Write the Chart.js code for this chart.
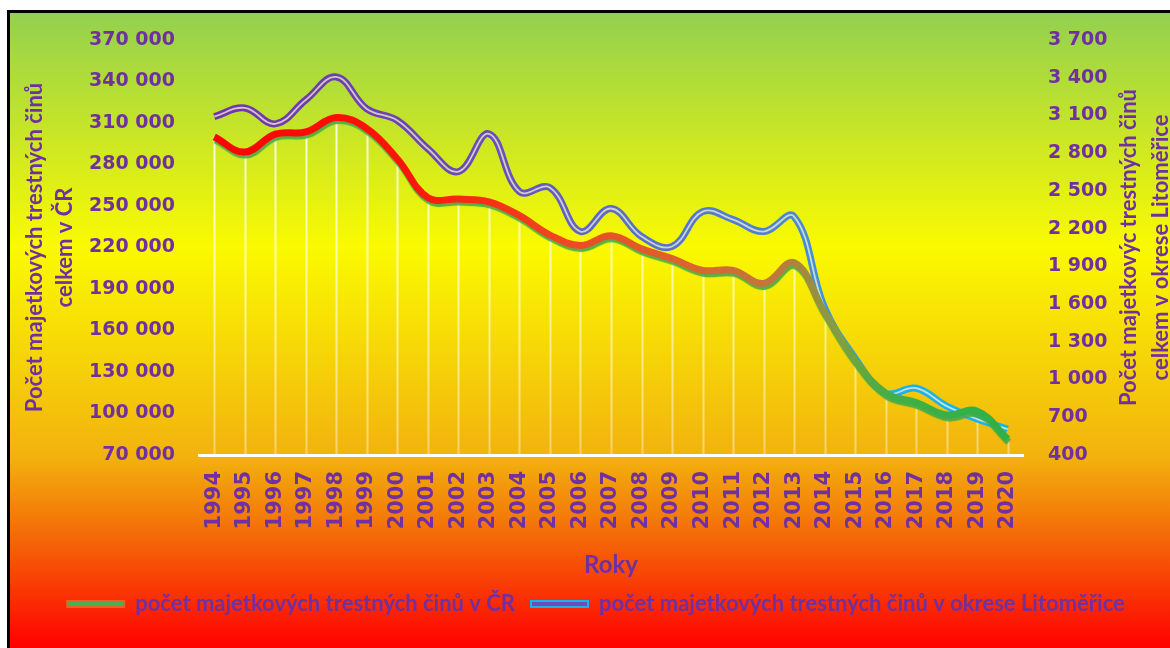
<!DOCTYPE html>
<html lang="cs">
<head>
<meta charset="utf-8">
<title>Majetkové trestné činy</title>
<script src="https://cdn.jsdelivr.net/npm/chart.js@4.4.1/dist/chart.umd.min.js"></script>
<style>
  html, body { margin: 0; padding: 0; background: #fff; }
  canvas { display: block; }
</style>
</head>
<body>
<canvas id="chart" width="1170" height="648"></canvas>
<script>
const roky = ['1994', '1995', '1996', '1997', '1998', '1999', '2000', '2001', '2002', '2003', '2004',
  '2005', '2006', '2007', '2008', '2009', '2010', '2011', '2012', '2013', '2014', '2015', '2016',
  '2017', '2018', '2019', '2020'];

// počet majetkových trestných činů v ČR (levá osa)
const cinyCR = [300000, 289000, 302000, 303500, 314000, 306000, 284000, 256000, 255000, 253000, 243000,
  229000, 221500, 228500, 219000, 212000, 203500, 203500, 194000, 209000, 173000, 138500, 114700,
  108000, 99000, 101700, 81500];

// počet majetkových trestných činů v okrese Litoměřice (pravá osa)
const cinyLitomerice = [3090, 3160, 3033, 3224, 3406, 3152, 3060, 2835, 2653, 2954, 2494,
  2526, 2177, 2360, 2137, 2058, 2335, 2272, 2177, 2296, 1570, 1170, 892,
  931, 789, 686, 606];

const osaLevaMin = 70000, osaLevaMax = 370000, osaLevaKrok = 30000;
const osaPravaMin = 400, osaPravaMax = 3700, osaPravaKrok = 300;

const FIALOVA = '#7030A0';
const fmtCislo = v => String(v).replace(/\B(?=(\d{3})+(?!\d))/g, ' ');

function gradX(chart, stops) {
  const a = chart.chartArea;
  if (!a) return stops[0][1];
  const g = chart.ctx.createLinearGradient(a.left, 0, a.right, 0);
  stops.forEach(([p, c]) => g.addColorStop(p, c));
  return g;
}

// pozadí + černý okraj nahoře a vlevo
const pozadi = {
  id: 'pozadi',
  beforeDraw(chart) {
    const { ctx, width, height } = chart;
    ctx.save();
    ctx.fillStyle = '#fff';
    ctx.fillRect(0, 0, width, height);
    const g = ctx.createLinearGradient(0, 11, 0, height);
    g.addColorStop(0, '#92D050');
    g.addColorStop(0.37, '#FAFA00');
    g.addColorStop(0.70, '#F2B20E');
    g.addColorStop(0.82, '#F46C08');
    g.addColorStop(1, '#FF0000');
    ctx.fillStyle = g;
    ctx.fillRect(8, 11, width - 8, height - 11);
    ctx.fillStyle = '#000';
    ctx.fillRect(7, 10, width - 7, 3);
    ctx.fillRect(7, 10, 3, height - 10);
    ctx.restore();
  }
};

// svislé spojnice od bodů ČR k ose, stín čáry ČR, dvojitá čára okresu
const spojnice = {
  id: 'spojnice',
  beforeDatasetsDraw(chart) {
    const { ctx, chartArea } = chart;
    const meta = chart.getDatasetMeta(0);
    ctx.save();
    const g = ctx.createLinearGradient(0, chartArea.top, 0, chartArea.bottom);
    g.addColorStop(0, 'rgba(255,255,255,0.95)');
    g.addColorStop(1, 'rgba(255,255,255,0.4)');
    ctx.strokeStyle = g;
    ctx.lineWidth = 2;
    meta.data.forEach(p => {
      ctx.beginPath();
      ctx.moveTo(Math.round(p.x) + 0.5, p.y);
      ctx.lineTo(Math.round(p.x) + 0.5, chartArea.bottom);
      ctx.stroke();
    });
    ctx.restore();
  },
  beforeDatasetDraw(chart, args) {
    if (args.index !== 0) return;
    const ctx = chart.ctx;
    ctx.save();
    ctx.shadowColor = 'rgba(70,170,70,0.9)';
    ctx.shadowOffsetX = 1;
    ctx.shadowOffsetY = 3;
    ctx.shadowBlur = 1;
  },
  afterDatasetDraw(chart, args) {
    if (args.index === 0) { chart.ctx.restore(); return; }
    const el = args.meta.dataset;
    const puvodni = el.options;
    el.options = Object.assign({}, puvodni, { borderColor: 'rgba(245,245,200,0.75)', borderWidth: 1.8 });
    el.draw(chart.ctx, chart.chartArea);
    el.options = puvodni;
  }
};

// název pravé osy (čte se zdola nahoru)
const nazevPrave = {
  id: 'nazevPrave',
  afterDraw(chart) {
    const { ctx, chartArea } = chart;
    const cy = (chartArea.top + chartArea.bottom) / 2;
    ctx.save();
    ctx.fillStyle = FIALOVA;
    ctx.font = 'bold 22px Lato';
    ctx.textAlign = 'center';
    ctx.textBaseline = 'middle';
    [['Počet majetkovýc trestných činů', 1129], ['celkem v okrese Litoměřice', 1161]].forEach(([t, x]) => {
      ctx.save();
      ctx.translate(x, cy);
      ctx.rotate(-Math.PI / 2);
      ctx.fillText(t, 0, 0);
      ctx.restore();
    });
    ctx.restore();
  }
};

new Chart(document.getElementById('chart'), {
  type: 'line',
  data: {
    labels: roky,
    datasets: [
      {
        label: 'počet majetkových trestných činů v ČR',
        data: cinyCR,
        yAxisID: 'y',
        borderColor: c => gradX(c.chart, [[0, '#FF0000'], [0.25, '#FF1508'], [0.45, '#EE4A22'],
          [0.6, '#D9662E'], [0.7, '#C0783C'], [0.78, '#7FA040'], [0.84, '#3FB045'], [1, '#2DB04A']]),
        borderWidth: 7,
        tension: 0.4,
        pointRadius: 0,
        fill: false
      },
      {
        label: 'počet majetkových trestných činů v okrese Litoměřice',
        data: cinyLitomerice,
        yAxisID: 'y1',
        borderColor: c => gradX(c.chart, [[0, '#7034A8'], [0.35, '#6A4CB8'], [0.5, '#5C6CC8'],
          [0.72, '#4C86D6'], [0.84, '#22AEEE'], [1, '#12B6F0']]),
        borderWidth: 7,
        tension: 0.4,
        pointRadius: 0,
        fill: false
      }
    ]
  },
  options: {
    responsive: false,
    animation: false,
    layout: { padding: { left: 30, top: 40, right: 8, bottom: 23 } },
    plugins: {
      tooltip: { enabled: false },
      legend: {
        position: 'bottom',
        labels: {
          color: FIALOVA,
          font: { family: 'Lato', size: 22, weight: 'bold' },
          boxWidth: 57,
          boxHeight: 6,
          padding: 16,
          generateLabels: chart => chart.data.datasets.map((ds, i) => ({
            text: ds.label,
            datasetIndex: i,
            fontColor: FIALOVA,
            fillStyle: i === 0 ? '#4CAF50' : '#6A4FB5',
            strokeStyle: i === 0 ? '#E8602A' : '#1CB0F0',
            lineWidth: 2,
            hidden: false
          }))
        }
      }
    },
    scales: {
      x: {
        offset: true,
        grid: { display: false, drawTicks: false },
        border: { display: true, color: '#fff', width: 3 },
        ticks: {
          color: FIALOVA,
          font: { family: 'DejaVu Sans', size: 21, weight: 'bold' },
          minRotation: 90,
          maxRotation: 90,
          padding: 16,
          autoSkip: false
        },
        title: {
          display: true,
          text: 'Roky',
          color: FIALOVA,
          font: { family: 'Lato', size: 24, weight: 'bold', lineHeight: 1 },
          padding: { top: 0, bottom: 0 }
        },
        afterFit: s => { s.height = 122; }
      },
      y: {
        position: 'left',
        min: osaLevaMin,
        max: osaLevaMax,
        grid: { display: false, drawTicks: false },
        border: { display: false },
        ticks: {
          stepSize: osaLevaKrok,
          color: FIALOVA,
          font: { family: 'DejaVu Sans', size: 19, weight: 'bold' },
          padding: 24,
          callback: v => fmtCislo(v)
        },
        title: {
          display: true,
          text: ['Počet majetkových trestných činů', 'celkem v ČR'],
          color: FIALOVA,
          font: { family: 'Lato', size: 22, weight: 'bold', lineHeight: 1.35 },
          padding: { top: -10, bottom: 0 }
        },
        afterFit: s => { s.width = 169; }
      },
      y1: {
        position: 'right',
        min: osaPravaMin,
        max: osaPravaMax,
        grid: { display: false, drawTicks: false },
        border: { display: false },
        ticks: {
          stepSize: osaPravaKrok,
          color: FIALOVA,
          font: { family: 'DejaVu Sans', size: 19, weight: 'bold' },
          padding: 25,
          callback: v => fmtCislo(v)
        },
        afterFit: s => { s.width = 139; }
      }
    }
  },
  plugins: [pozadi, spojnice, nazevPrave]
});
</script>
</body>
</html>
